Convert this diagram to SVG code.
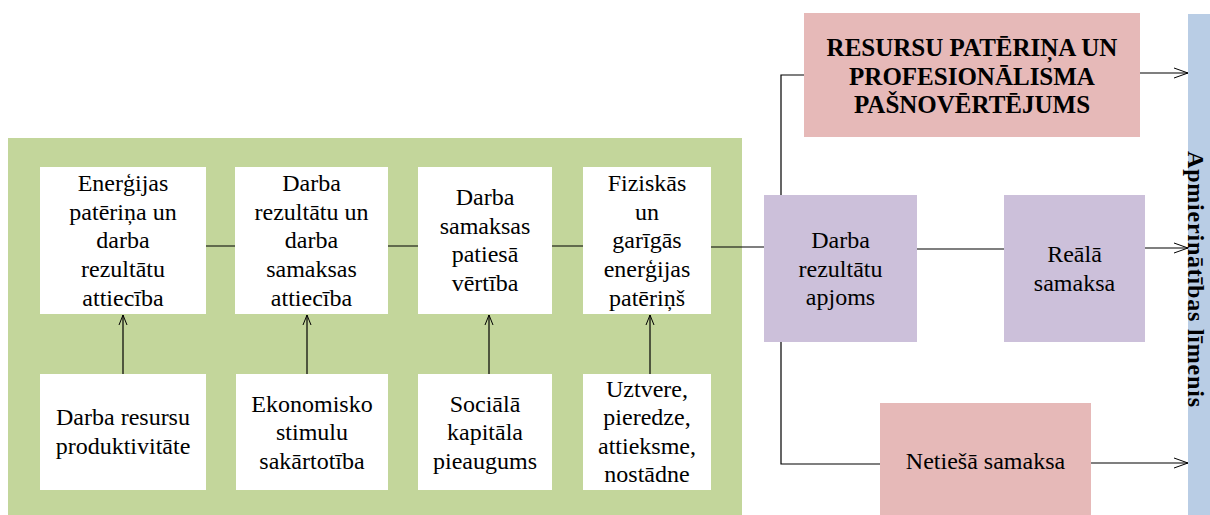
<svg xmlns="http://www.w3.org/2000/svg" width="1210" height="515" viewBox="0 0 1210 515">
<style>
text{font-family:"Liberation Serif","Times New Roman",serif;font-size:24px;fill:#000;text-anchor:middle}
.b{font-weight:bold;font-size:25px}
.vt{font-weight:bold;font-size:24px}
.w{fill:#fff}
.p{fill:#E6B9B8}
.v{fill:#CCC0DA}
.c{stroke:#000;stroke-width:1.2;fill:none}
</style>
<defs>
<marker id="ah" markerWidth="16" markerHeight="12" refX="15" refY="6" orient="auto" markerUnits="userSpaceOnUse">
<path d="M1,1 L15,6 L1,11" fill="none" stroke="#000" stroke-width="1"/>
</marker>
<marker id="au" markerWidth="12" markerHeight="10" refX="11" refY="5" orient="auto" markerUnits="userSpaceOnUse">
<path d="M1,1 L11,5 L1,9" fill="none" stroke="#000" stroke-width="1"/>
</marker>
</defs>
<rect id="panel" x="8" y="138" width="734" height="377" fill="#C3D69B"/>
<rect id="bar" x="1188" y="14" width="22" height="501" fill="#B9CDE5"/>
<g id="connectors">
<path class="c" d="M206,246 H235 M388,246 H418 M552,246 H583 M711,247 H764"/>
<path class="c" d="M123,374 V315" marker-end="url(#au)"/>
<path class="c" d="M307,374 V315" marker-end="url(#au)"/>
<path class="c" d="M489,374 V315" marker-end="url(#au)"/>
<path class="c" d="M650,374 V315" marker-end="url(#au)"/>
<path class="c" d="M781,195 V75 H804"/>
<path class="c" d="M781,342 V464 H880"/>
<path class="c" d="M917,249 H1004"/>
<path class="c" d="M1140,73 H1188" marker-end="url(#ah)"/>
<path class="c" d="M1145,248 H1188" marker-end="url(#ah)"/>
<path class="c" d="M1091,463 H1188" marker-end="url(#ah)"/>
</g>
<g id="n1"><rect class="w" x="40" y="167" width="166" height="147"/>
<text x="123" y="191">Enerģijas</text><text x="123" y="220">patēriņa un</text><text x="123" y="248">darba</text><text x="123" y="277">rezultātu</text><text x="123" y="306">attiecība</text></g>
<g id="n2"><rect class="w" x="235" y="167" width="153" height="147"/>
<text x="311.5" y="191">Darba</text><text x="311.5" y="220">rezultātu un</text><text x="311.5" y="248">darba</text><text x="311.5" y="277">samaksas</text><text x="311.5" y="306">attiecība</text></g>
<g id="n3"><rect class="w" x="418" y="167" width="134" height="147"/>
<text x="485" y="205">Darba</text><text x="485" y="234">samaksas</text><text x="485" y="262">patiesā</text><text x="485" y="291">vērtība</text></g>
<g id="n4"><rect class="w" x="583" y="167" width="128" height="147"/>
<text x="647" y="191">Fiziskās</text><text x="647" y="220">un</text><text x="647" y="248">garīgās</text><text x="647" y="277">enerģijas</text><text x="647" y="306">patēriņš</text></g>
<g id="n5"><rect class="w" x="40" y="374" width="166" height="116"/>
<text x="123" y="425">Darba resursu</text><text x="123" y="454">produktivitāte</text></g>
<g id="n6"><rect class="w" x="236" y="374" width="152" height="116"/>
<text x="312" y="412">Ekonomisko</text><text x="312" y="440">stimulu</text><text x="312" y="469">sakārtotība</text></g>
<g id="n7"><rect class="w" x="418" y="374" width="134" height="116"/>
<text x="485" y="412">Sociālā</text><text x="485" y="440">kapitāla</text><text x="485" y="469">pieaugums</text></g>
<g id="n8"><rect class="w" x="583" y="374" width="128" height="116"/>
<text x="647" y="397">Uztvere,</text><text x="647" y="425">pieredze,</text><text x="647" y="454">attieksme,</text><text x="647" y="482">nostādne</text></g>
<g id="n9"><rect class="p" x="804" y="13" width="336" height="124"/>
<text class="b" x="972" y="56">RESURSU PATĒRIŅA UN</text><text class="b" x="972" y="85">PROFESIONĀLISMA</text><text class="b" x="972" y="113">PAŠNOVĒRTĒJUMS</text></g>
<g id="n10"><rect class="v" x="764" y="195" width="153" height="147"/>
<text x="840.5" y="248">Darba</text><text x="840.5" y="277">rezultātu</text><text x="840.5" y="305">apjoms</text></g>
<g id="n11"><rect class="v" x="1004" y="195" width="141" height="147"/>
<text x="1074.5" y="262">Reālā</text><text x="1074.5" y="291">samaksa</text></g>
<g id="n12"><rect class="p" x="880" y="403" width="211" height="112"/>
<text x="985.5" y="469">Netiešā samaksa</text></g>
<g id="n13"><text class="vt" transform="translate(1188,279) rotate(90)" textLength="256" lengthAdjust="spacing">Apmierinātības līmenis</text></g>
</svg>
